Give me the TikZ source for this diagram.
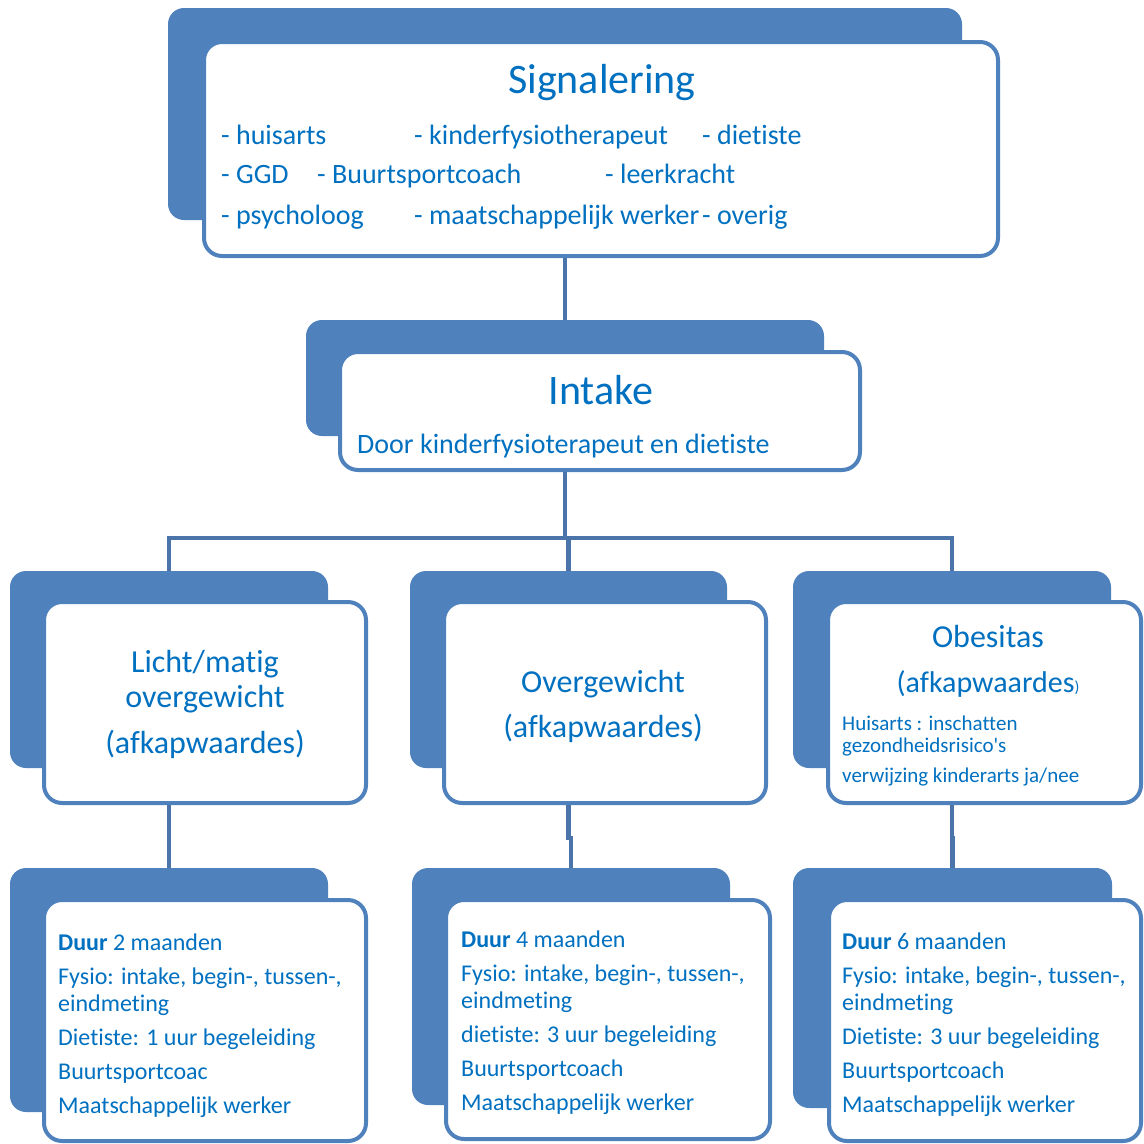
\documentclass[tikz,border=0pt]{standalone}
\usepackage{fontspec}
\setmainfont{Carlito}[Ligatures={NoCommon}]
\usepackage{tikz}
\usetikzlibrary{calc}

\definecolor{plateblue}{HTML}{4F81BD}
\definecolor{linkblue}{HTML}{4A74AA}
\definecolor{textblue}{HTML}{0070C0}

\begin{document}
\begin{tikzpicture}[x=1pt,y=1pt,
    plate/.style={fill=plateblue, rounded corners=16pt, inner sep=0pt},
    card/.style={draw=plateblue, line width=4pt, fill=white, rounded corners=18pt, inner sep=0pt},
    link/.style={draw=linkblue, line width=4.5pt},
    bigtitle/.style={font=\fontsize{42}{50}\selectfont, anchor=base},
    item/.style={font=\fontsize{28}{34}\selectfont, anchor=base west},
    midtitle/.style={font=\fontsize{32}{35}\selectfont, align=center, anchor=base},
    note/.style={font=\fontsize{21}{22}\selectfont, align=left, anchor=base west},
    detail/.style={font=\fontsize{24}{27}\selectfont, align=left, anchor=base west}]
            \tikzstyle{every node}+=[inner sep=0pt, text=textblue]
            \useasboundingbox (0,0) rectangle (1144,-1144);
            % back plates
            \node [plate, minimum width=794, minimum height=212] (sigback) at (565,-114) {};
            \node [plate, minimum width=518, minimum height=116] (intback) at (565,-378) {};
            \node [plate, minimum width=318, minimum height=197] (lightback) at (169,-669.5) {};
            \node [plate, minimum width=317, minimum height=197] (overback) at (568.5,-669.5) {};
            \node [plate, minimum width=318, minimum height=197] (obesback) at (952,-669.5) {};
            \node [plate, minimum width=318, minimum height=244] (dur2back) at (169,-990) {};
            \node [plate, minimum width=318, minimum height=237] (dur4back) at (571,-986.5) {};
            \node [plate, minimum width=319, minimum height=240] (dur6back) at (952.5,-988) {};
            % connectors
            \draw [link] (sigback.south) -- (intback.north);
            \draw [link] (intback.south) -- ++(0,-102) coordinate (split);
            \draw [link] (split) -| (lightback.north);
            \draw [link] (split) -| (overback.north);
            \draw [link] (split) -| (obesback.north);
            \draw [link] (lightback.south) -- (dur2back.north);
            \draw [link] (overback.south) -- ++(0,-70) -| (dur4back.north);
            \draw [link] (obesback.south) -- ++(0,-70) -| (dur6back.north);
            % front cards
            \node [card, minimum width=794, minimum height=214] (sig) at (601,-149) {};
            \node [card, minimum width=520, minimum height=118] (int) at (600,-411) {};
            \node [card, minimum width=322, minimum height=201] (light) at (205,-702.5) {};
            \node [card, minimum width=322, minimum height=201] (over) at (605,-702.5) {};
            \node [card, minimum width=313, minimum height=201] (obes) at (984.5,-702.5) {};
            \node [card, minimum width=322, minimum height=241] (dur2) at (205,-1020.5) {};
            \node [card, minimum width=324, minimum height=239] (dur4) at (608,-1019.5) {};
            \node [card, minimum width=312, minimum height=241] (dur6) at (985,-1020.5) {};
            % texts (multi-line nodes sit on their last line)
            \node [bigtitle] (sigtitle) at (602,-93) {Signalering};
            \foreach \x/\y/\t [count=\i] in {221/144/huisarts, 414/144/kinderfysiotherapeut, 702/144/dietiste,
                221/183/GGD, 317/183/Buurtsportcoach, 605/183/leerkracht,
                221/224/psycholoog, 414/224/maatschappelijk werker, 702/224/overig}
                \node [item] (who\i) at (\x,-\y) {- \t};
            \node [bigtitle] (inttitle) at (601,-404) {Intake};
            \node [item] (intby) at (357,-453) {Door kinderfysioterapeut en dietiste};
            \node [midtitle] (lighttitle) at (205,-753) {Licht/matig\\overgewicht\\[11pt](afkapwaardes)};
            \node [midtitle] (overtitle) at (603,-737) {Overgewicht\\[10pt](afkapwaardes)};
            \node [midtitle] (obestitle) at (988,-692)
                {Obesitas\\[10pt]{\fontsize{30}{35}\selectfont(afkapwaardes}{\fontsize{16}{16}\selectfont)}};
            \node [note] (obesnote) at (842,-782)
                {Huisarts : inschatten\\gezondheidsrisico\textquotesingle s\\[8pt]verwijzing kinderarts ja/nee};
            \node [detail] (dur2text) at (58,-1113) {\textbf{Duur} 2 maanden\\[7pt]Fysio: intake, begin-, tussen-,\\eindmeting\\[7pt]Dietiste: 1 uur begeleiding\\[7pt]Buurtsportcoac\\[7pt]Maatschappelijk werker};
            \node [detail] (dur4text) at (461,-1110) {\textbf{Duur} 4 maanden\\[7pt]Fysio: intake, begin-, tussen-,\\eindmeting\\[7pt]dietiste: 3 uur begeleiding\\[7pt]Buurtsportcoach\\[7pt]Maatschappelijk werker};
            \node [detail] (dur6text) at (842,-1112) {\textbf{Duur} 6 maanden\\[7pt]Fysio: intake, begin-, tussen-,\\eindmeting\\[7pt]Dietiste: 3 uur begeleiding\\[7pt]Buurtsportcoach\\[7pt]Maatschappelijk werker};
\end{tikzpicture}
\end{document}
